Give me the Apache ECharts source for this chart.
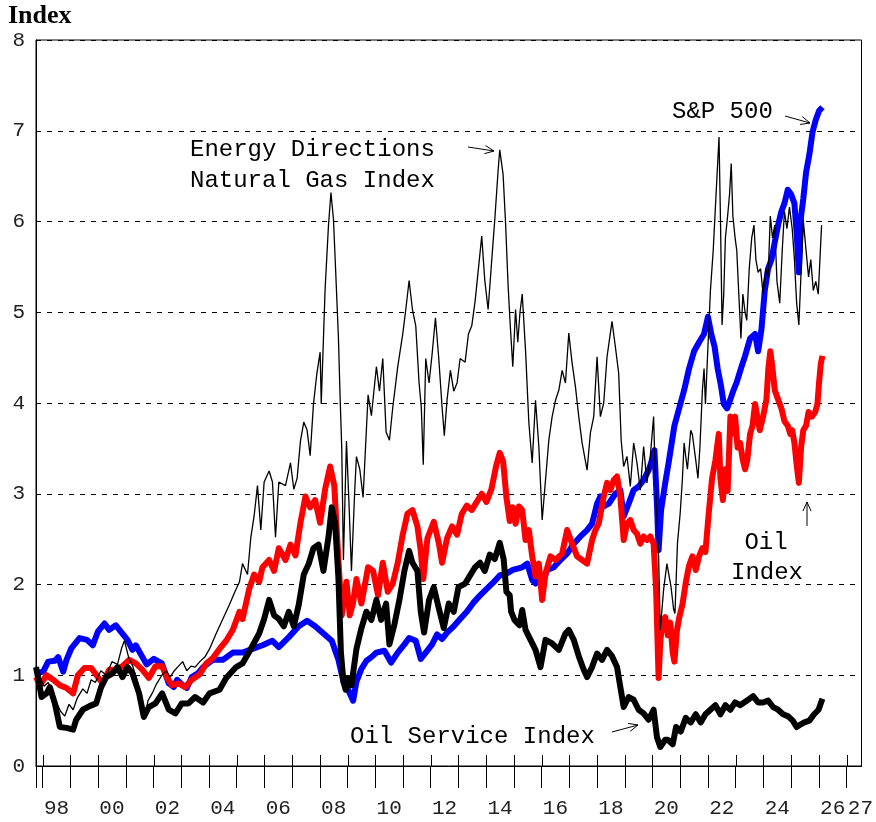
<!DOCTYPE html>
<html>
<head>
<meta charset="utf-8">
<title>Natural Gas Index vs S&amp;P 500, Oil and Oil Service</title>
<script src="https://cdn.jsdelivr.net/npm/echarts@6/dist/echarts.min.js"></script>
<style>
  html, body { margin: 0; padding: 0; background: #fff; }
  #chart { width: 876px; height: 822px; }
</style>
</head>
<body>
<div id="chart"></div>
<script>
// [decimal year, index value] - all series start at 1 in late 1997

// Energy Directions Natural Gas Index (thin black)
const natGas = [
  [1997.76,1.10],[1997.9,0.98],[1998.05,0.88],[1998.2,0.92],[1998.35,0.82],[1998.5,0.70],[1998.65,0.60],[1998.8,0.55],
  [1998.95,0.68],[1999.1,0.62],[1999.25,0.75],[1999.45,0.85],[1999.6,0.80],[1999.75,0.95],[1999.9,0.92],[2000.1,1.05],
  [2000.3,1.00],[2000.5,1.15],[2000.7,1.12],[2000.85,1.30],[2000.95,1.38],[2001.1,1.20],[2001.25,1.10],[2001.4,0.95],
  [2001.55,0.75],[2001.7,0.55],[2001.8,0.72],[2001.95,0.80],[2002.1,0.90],[2002.3,1.00],[2002.45,1.05],[2002.6,0.98],
  [2002.75,1.05],[2002.9,1.10],[2003.05,1.15],[2003.2,1.05],[2003.35,1.10],[2003.5,1.09],[2003.67,1.15],[2003.85,1.20],
  [2004.02,1.29],[2004.26,1.46],[2004.5,1.62],[2004.74,1.78],[2004.92,1.91],[2005.1,2.03],[2005.21,2.23],[2005.39,2.11],
  [2005.51,2.52],[2005.63,2.76],[2005.75,3.09],[2005.87,2.60],[2005.99,3.13],[2006.17,3.25],[2006.29,3.13],[2006.4,2.52],
  [2006.52,3.13],[2006.76,3.09],[2006.94,3.34],[2007.06,3.05],[2007.18,3.17],[2007.3,3.58],[2007.42,3.79],[2007.54,3.70],
  [2007.65,3.42],[2007.77,3.99],[2007.89,4.32],[2008.01,4.56],[2008.05,3.99],[2008.19,5.26],[2008.31,5.95],[2008.4,6.32],
  [2008.49,6.03],[2008.57,5.46],[2008.67,4.72],[2008.73,4.07],[2008.79,3.50],[2008.85,2.27],[2008.96,3.58],[2009.05,2.90],
  [2009.14,2.15],[2009.26,3.05],[2009.32,3.41],[2009.44,3.27],[2009.56,2.96],[2009.74,4.09],[2009.86,3.86],[2010.04,4.40],
  [2010.15,4.13],[2010.27,4.49],[2010.39,3.68],[2010.51,3.59],[2010.63,3.95],[2010.81,4.40],[2010.99,4.76],[2011.1,5.03],
  [2011.22,5.35],[2011.34,5.03],[2011.46,4.85],[2011.58,4.22],[2011.66,3.95],[2011.73,3.32],[2011.82,4.49],[2011.94,4.22],
  [2012.05,4.54],[2012.17,4.94],[2012.29,4.49],[2012.41,3.95],[2012.49,3.64],[2012.59,4.04],[2012.71,4.36],[2012.83,4.13],
  [2012.95,4.22],[2013.06,4.49],[2013.24,4.45],[2013.36,4.76],[2013.48,4.85],[2013.6,5.12],[2013.72,5.48],[2013.84,5.84],
  [2013.95,5.35],[2014.07,5.03],[2014.19,5.53],[2014.31,6.02],[2014.43,6.56],[2014.49,6.79],[2014.61,6.52],[2014.7,5.98],
  [2014.79,5.30],[2014.87,4.85],[2014.96,4.40],[2015.06,5.03],[2015.14,4.67],[2015.22,5.00],[2015.3,5.20],[2015.42,4.58],
  [2015.54,3.78],[2015.66,3.34],[2015.78,4.03],[2015.9,3.52],[2016.02,2.71],[2016.14,3.15],[2016.26,3.59],[2016.38,3.85],
  [2016.5,4.03],[2016.62,4.14],[2016.74,4.36],[2016.86,4.22],[2016.98,4.77],[2017.1,4.44],[2017.22,4.18],[2017.34,3.85],
  [2017.46,3.56],[2017.64,3.26],[2017.76,3.67],[2017.88,3.85],[2018.0,4.51],[2018.12,3.85],[2018.24,4.00],[2018.36,4.51],
  [2018.48,4.77],[2018.54,4.90],[2018.66,4.62],[2018.78,4.33],[2018.87,3.59],[2018.96,3.30],[2019.08,3.41],[2019.2,3.08],
  [2019.32,3.56],[2019.44,3.34],[2019.56,3.04],[2019.68,3.52],[2019.8,3.12],[2019.92,3.41],[2020.04,3.85],[2020.1,3.19],
  [2020.22,2.31],[2020.28,1.50],[2020.4,1.94],[2020.52,2.23],[2020.67,1.97],[2020.76,1.73],[2020.81,1.68],[2020.9,2.45],
  [2021.0,2.79],[2021.08,3.17],[2021.14,3.56],[2021.2,3.41],[2021.26,3.27],[2021.38,3.70],[2021.44,3.65],[2021.56,3.37],
  [2021.64,3.17],[2021.71,3.51],[2021.8,4.14],[2021.86,4.38],[2021.91,3.99],[2022.0,4.62],[2022.09,5.24],[2022.19,5.68],
  [2022.27,6.16],[2022.35,6.64],[2022.4,6.93],[2022.45,6.06],[2022.51,4.86],[2022.57,5.20],[2022.63,5.82],[2022.71,6.06],
  [2022.78,6.30],[2022.84,6.64],[2022.9,6.06],[2022.98,5.82],[2023.04,5.68],[2023.1,5.29],[2023.19,4.71],[2023.26,5.20],
  [2023.34,5.00],[2023.4,4.91],[2023.49,5.48],[2023.58,5.82],[2023.66,5.96],[2023.73,5.58],[2023.81,5.44],[2023.9,5.48],
  [2023.99,5.20],[2024.09,5.48],[2024.17,5.38],[2024.25,6.06],[2024.33,5.82],[2024.41,5.96],[2024.49,5.34],[2024.59,5.10],
  [2024.68,5.68],[2024.76,6.11],[2024.85,5.92],[2024.94,6.16],[2025.04,5.92],[2025.12,5.58],[2025.2,5.10],[2025.28,4.86],
  [2025.36,5.44],[2025.44,6.01],[2025.54,5.68],[2025.63,5.39],[2025.71,5.58],[2025.8,5.24],[2025.89,5.34],[2025.98,5.20],
  [2026.04,5.58],[2026.1,5.96]
];

// S&P 500 (blue)
const sp500 = [
  [1997.76,1.02],[1998.02,1.04],[1998.2,1.15],[1998.44,1.16],[1998.56,1.20],[1998.74,1.04],[1998.86,1.17],[1999.04,1.30],
  [1999.33,1.41],[1999.6,1.39],[1999.81,1.33],[1999.99,1.48],[2000.23,1.57],[2000.4,1.50],[2000.64,1.55],[2000.82,1.48],
  [2001.06,1.39],[2001.24,1.28],[2001.36,1.33],[2001.6,1.20],[2001.75,1.12],[2002.01,1.18],[2002.3,1.13],[2002.55,0.91],
  [2002.73,0.87],[2002.85,0.95],[2003.02,0.90],[2003.2,0.86],[2003.38,0.98],[2003.6,1.02],[2003.79,1.09],[2004.14,1.17],
  [2004.5,1.17],[2004.86,1.25],[2005.21,1.25],[2005.57,1.29],[2005.93,1.33],[2006.29,1.38],[2006.52,1.31],[2006.88,1.42],
  [2007.24,1.54],[2007.54,1.60],[2007.83,1.54],[2008.13,1.46],[2008.43,1.38],[2008.67,1.17],[2008.85,0.93],[2009.02,0.84],
  [2009.2,0.72],[2009.32,0.93],[2009.5,1.07],[2009.68,1.16],[2009.86,1.20],[2010.04,1.25],[2010.33,1.27],[2010.57,1.14],
  [2010.81,1.25],[2011.05,1.34],[2011.22,1.41],[2011.46,1.38],[2011.64,1.18],[2011.82,1.25],[2012.05,1.34],[2012.23,1.45],
  [2012.41,1.40],[2012.59,1.47],[2012.83,1.54],[2013.06,1.62],[2013.3,1.70],[2013.54,1.80],[2013.78,1.88],[2014.01,1.95],
  [2014.25,2.02],[2014.49,2.10],[2014.73,2.12],[2014.96,2.16],[2015.3,2.19],[2015.48,2.23],[2015.66,2.05],[2015.78,2.01],
  [2015.9,2.16],[2016.02,2.01],[2016.2,2.16],[2016.44,2.19],[2016.68,2.27],[2016.92,2.34],[2017.16,2.45],[2017.4,2.53],
  [2017.64,2.60],[2017.82,2.67],[2018.0,2.89],[2018.12,2.97],[2018.24,2.86],[2018.42,2.89],[2018.66,3.00],[2018.84,3.04],
  [2018.96,2.75],[2019.14,2.89],[2019.32,3.04],[2019.5,3.08],[2019.68,3.15],[2019.86,3.26],[2019.98,3.37],[2020.07,3.48],
  [2020.16,2.89],[2020.22,2.38],[2020.31,2.82],[2020.46,3.12],[2020.58,3.34],[2020.79,3.75],[2020.96,3.94],[2021.14,4.14],
  [2021.32,4.38],[2021.5,4.57],[2021.68,4.67],[2021.86,4.76],[2022.0,4.95],[2022.12,4.76],[2022.24,4.62],[2022.35,4.38],
  [2022.47,4.19],[2022.57,3.99],[2022.69,3.94],[2022.81,4.04],[2022.92,4.14],[2023.04,4.23],[2023.19,4.38],[2023.34,4.52],
  [2023.52,4.71],[2023.7,4.76],[2023.81,4.57],[2023.93,4.81],[2024.05,5.24],[2024.17,5.48],[2024.29,5.58],[2024.41,5.77],
  [2024.53,5.96],[2024.65,6.11],[2024.76,6.20],[2024.88,6.35],[2025.0,6.30],[2025.12,6.20],[2025.2,5.87],[2025.28,5.44],
  [2025.36,6.06],[2025.44,6.25],[2025.54,6.54],[2025.66,6.74],[2025.77,6.98],[2025.89,7.12],[2026.01,7.22],[2026.13,7.26]
];

// Oil Index (red)
const oilIndex = [
  [1997.76,0.98],[1997.9,0.89],[1998.14,1.00],[1998.38,0.95],[1998.62,0.89],[1998.86,0.86],[1999.1,0.80],[1999.27,1.00],
  [1999.51,1.08],[1999.75,1.08],[1999.99,0.98],[2000.17,0.91],[2000.4,1.06],[2000.64,1.06],[2000.88,1.10],[2001.12,1.17],
  [2001.36,1.13],[2001.6,1.06],[2001.83,0.97],[2002.07,1.10],[2002.31,1.10],[2002.49,0.97],[2002.67,0.89],[2002.9,0.91],
  [2003.14,0.87],[2003.38,0.95],[2003.67,1.01],[2003.9,1.13],[2004.14,1.19],[2004.38,1.29],[2004.62,1.38],[2004.86,1.50],
  [2005.1,1.70],[2005.21,1.62],[2005.45,1.95],[2005.63,2.11],[2005.81,2.03],[2005.93,2.19],[2006.17,2.27],[2006.35,2.15],
  [2006.52,2.40],[2006.76,2.27],[2006.94,2.44],[2007.12,2.32],[2007.3,2.68],[2007.48,2.97],[2007.65,2.85],[2007.83,2.93],
  [2008.01,2.68],[2008.19,3.05],[2008.37,3.30],[2008.52,3.09],[2008.67,2.27],[2008.79,1.66],[2008.88,1.87],[2008.96,2.03],
  [2009.08,1.66],[2009.2,1.80],[2009.32,2.06],[2009.5,1.79],[2009.74,2.19],[2009.92,2.15],[2010.1,1.88],[2010.27,2.24],
  [2010.45,1.92],[2010.63,2.01],[2010.81,2.24],[2010.99,2.55],[2011.16,2.78],[2011.34,2.82],[2011.52,2.64],[2011.64,2.37],
  [2011.73,2.06],[2011.88,2.51],[2012.11,2.69],[2012.29,2.46],[2012.41,2.24],[2012.59,2.51],[2012.77,2.64],[2012.95,2.55],
  [2013.12,2.78],[2013.3,2.87],[2013.48,2.82],[2013.66,2.91],[2013.84,3.00],[2014.01,2.91],[2014.19,3.05],[2014.37,3.32],
  [2014.49,3.45],[2014.61,3.36],[2014.73,2.96],[2014.85,2.70],[2014.96,2.85],[2015.06,2.67],[2015.18,2.86],[2015.3,2.82],
  [2015.42,2.49],[2015.54,2.60],[2015.66,2.31],[2015.78,2.09],[2015.9,2.23],[2016.02,1.83],[2016.14,2.12],[2016.32,2.31],
  [2016.5,2.27],[2016.74,2.34],[2016.92,2.60],[2017.1,2.45],[2017.28,2.31],[2017.46,2.27],[2017.64,2.23],[2017.82,2.49],
  [2017.94,2.60],[2018.06,2.67],[2018.24,2.97],[2018.36,3.12],[2018.48,3.04],[2018.6,3.15],[2018.72,3.19],[2018.84,2.97],
  [2018.96,2.49],[2019.08,2.67],[2019.2,2.71],[2019.32,2.60],[2019.44,2.56],[2019.56,2.45],[2019.68,2.53],[2019.8,2.49],
  [2019.92,2.53],[2020.04,2.45],[2020.13,1.94],[2020.22,0.97],[2020.28,1.35],[2020.34,1.57],[2020.46,1.64],[2020.55,1.44],
  [2020.64,1.58],[2020.73,1.25],[2020.79,1.15],[2020.88,1.49],[2020.96,1.63],[2021.08,1.78],[2021.2,2.02],[2021.32,2.21],
  [2021.44,2.31],[2021.56,2.16],[2021.68,2.31],[2021.8,2.40],[2021.91,2.36],[2022.03,2.79],[2022.15,3.17],[2022.27,3.37],
  [2022.39,3.66],[2022.45,3.17],[2022.54,2.93],[2022.63,3.27],[2022.71,3.03],[2022.81,3.85],[2022.89,3.66],[2022.98,3.85],
  [2023.07,3.51],[2023.16,3.56],[2023.26,3.37],[2023.34,3.27],[2023.42,3.37],[2023.52,3.66],[2023.61,3.75],[2023.7,3.99],
  [2023.78,3.85],[2023.87,3.70],[2023.99,3.85],[2024.11,4.04],[2024.18,4.38],[2024.25,4.57],[2024.33,4.38],[2024.41,4.14],
  [2024.53,4.04],[2024.65,3.94],[2024.76,3.80],[2024.88,3.75],[2024.97,3.66],[2025.04,3.70],[2025.12,3.56],[2025.2,3.32],
  [2025.28,3.12],[2025.36,3.51],[2025.44,3.70],[2025.54,3.75],[2025.63,3.90],[2025.75,3.85],[2025.87,3.90],[2025.95,3.99],
  [2026.01,4.23],[2026.07,4.43],[2026.13,4.52]
];

// Oil Service Index (thick black)
const oilService = [
  [1997.76,1.09],[1997.85,0.95],[1997.96,0.76],[1998.14,0.80],[1998.26,0.87],[1998.44,0.69],[1998.62,0.43],[1998.86,0.42],
  [1999.1,0.40],[1999.21,0.51],[1999.45,0.62],[1999.69,0.66],[1999.93,0.69],[2000.11,0.87],[2000.29,0.98],[2000.52,1.02],
  [2000.7,1.09],[2000.88,0.98],[2001.06,1.09],[2001.24,1.02],[2001.48,0.80],[2001.65,0.54],[2001.83,0.65],[2002.07,0.69],
  [2002.31,0.80],[2002.55,0.62],[2002.79,0.58],[2003.02,0.69],[2003.26,0.69],[2003.5,0.76],[2003.79,0.70],[2004.02,0.80],
  [2004.38,0.84],[2004.62,0.97],[2004.98,1.09],[2005.21,1.13],[2005.51,1.29],[2005.81,1.46],[2005.99,1.62],[2006.17,1.83],
  [2006.35,1.66],[2006.52,1.62],[2006.7,1.54],[2006.88,1.70],[2007.06,1.54],[2007.24,1.78],[2007.42,2.11],[2007.6,2.23],
  [2007.77,2.40],[2007.95,2.44],[2008.13,2.15],[2008.31,2.52],[2008.43,2.85],[2008.55,2.68],[2008.67,2.07],[2008.76,1.25],
  [2008.85,0.93],[2008.93,0.84],[2009.02,0.97],[2009.14,0.89],[2009.32,1.29],[2009.5,1.52],[2009.68,1.70],[2009.86,1.61],
  [2010.04,1.83],[2010.21,1.61],[2010.39,1.79],[2010.51,1.34],[2010.69,1.56],[2010.87,1.83],[2011.05,2.15],[2011.22,2.37],
  [2011.34,2.24],[2011.52,2.15],[2011.64,1.70],[2011.76,1.47],[2011.94,1.83],[2012.11,1.97],[2012.29,1.74],[2012.47,1.52],
  [2012.65,1.79],[2012.83,1.70],[2013.0,1.97],[2013.24,2.01],[2013.42,2.10],[2013.6,2.19],[2013.78,2.24],[2013.95,2.15],
  [2014.13,2.33],[2014.31,2.28],[2014.49,2.46],[2014.63,2.28],[2014.73,1.92],[2014.85,1.88],[2014.9,1.70],[2015.02,1.61],
  [2015.2,1.55],[2015.3,1.72],[2015.42,1.50],[2015.6,1.39],[2015.78,1.28],[2015.96,1.09],[2016.14,1.39],[2016.38,1.35],
  [2016.62,1.28],[2016.86,1.46],[2016.98,1.50],[2017.16,1.39],[2017.34,1.21],[2017.52,1.06],[2017.64,0.98],[2017.82,1.09],
  [2018.0,1.24],[2018.18,1.17],[2018.36,1.28],[2018.54,1.21],[2018.72,1.09],[2018.84,0.87],[2018.96,0.65],[2019.14,0.76],
  [2019.32,0.73],[2019.5,0.62],[2019.68,0.58],[2019.86,0.51],[2020.04,0.62],[2020.16,0.32],[2020.28,0.21],[2020.46,0.29],
  [2020.55,0.29],[2020.73,0.24],[2020.85,0.43],[2021.02,0.38],[2021.2,0.53],[2021.38,0.48],[2021.56,0.57],[2021.74,0.48],
  [2021.91,0.57],[2022.09,0.62],[2022.27,0.67],[2022.45,0.57],[2022.63,0.67],[2022.81,0.62],[2022.98,0.70],[2023.16,0.67],
  [2023.4,0.72],[2023.63,0.77],[2023.81,0.70],[2023.99,0.70],[2024.17,0.72],[2024.35,0.65],[2024.53,0.62],[2024.71,0.57],
  [2024.88,0.55],[2025.06,0.50],[2025.2,0.43],[2025.3,0.45],[2025.48,0.48],[2025.66,0.50],[2025.83,0.57],[2025.99,0.62],
  [2026.13,0.74]
];

// ticks at every year boundary, two-digit labels centred in every other year
const tickYears = [1998,1999,2000,2001,2002,2003,2004,2005,2006,2007,2008,2009,2010,2011,2012,
                   2013,2014,2015,2016,2017,2018,2019,2020,2021,2022,2023,2024,2025,2026,2027];
const labelYears = [1998,2000,2002,2004,2006,2008,2010,2012,2014,2016,2018,2020,2022,2024,2026,2027];
const yTicks = [0,1,2,3,4,5,6,7,8];

const X_MIN = 1997.76, X_MAX = 2027.54;
const AXIS_FONT = '"Liberation Mono", monospace';
const NOTE_FONT = '24px "Liberation Mono", monospace';

var chart = echarts.init(document.getElementById('chart'), null, { renderer: 'canvas' });

// little open-headed arrow
function arrow(x1, y1, x2, y2) {
  var a = Math.atan2(y2 - y1, x2 - x1), h = 10, w = 0.42;
  var st = { stroke: '#000', lineWidth: 1, fill: 'none' };
  return [
    { type: 'polyline', silent: true, shape: { points: [[x1, y1], [x2, y2]] }, style: st },
    { type: 'polyline', silent: true, shape: { points: [
        [x2 - h * Math.cos(a - w), y2 - h * Math.sin(a - w)],
        [x2, y2],
        [x2 - h * Math.cos(a + w), y2 - h * Math.sin(a + w)]
      ] }, style: st }
  ];
}

function note(text, x, y, align) {
  return {
    type: 'text', silent: true, x: x, y: y,
    style: { text: text, font: NOTE_FONT, fill: '#000', textAlign: align || 'left',
             textVerticalAlign: 'middle', verticalAlign: 'middle' }
  };
}

var graphics = [
  { type: 'text', silent: true, x: 8, y: 16,
    style: { text: 'Index', font: 'bold 26px "Liberation Serif", serif', fill: '#000',
             textVerticalAlign: 'middle', verticalAlign: 'middle' } },
  // left axis runs on below the x axis
  { type: 'line', silent: true, shape: { x1: 36.5, y1: 766, x2: 36.5, y2: 788 }, style: { stroke: '#000', lineWidth: 1 } },
  note('Energy Directions', 190, 150),
  note('Natural Gas Index', 190, 181),
  note('S&P 500', 672, 112),
  note('Oil', 766, 543, 'center'),
  note('Index', 767, 573, 'center'),
  note('Oil Service Index', 350, 737)
]
  .concat(arrow(468, 147, 494, 151))
  .concat(arrow(785, 116, 810, 123))
  .concat(arrow(807, 526, 807, 502))
  .concat(arrow(612, 732, 638, 725));

var option = {
  animation: false,
  backgroundColor: '#fff',
  grid: {
    left: 36, right: 6, top: 40, bottom: 56,
    show: true, borderColor: '#000', borderWidth: 1, backgroundColor: 'transparent'
  },
  xAxis: {
    type: 'value', min: X_MIN, max: X_MAX, position: 'bottom',
    axisLine: { show: true, onZero: false, lineStyle: { color: '#000', width: 1 } },
    axisTick: { show: true, length: 22, customValues: tickYears, lineStyle: { color: '#000', width: 1 } },
    axisLabel: {
      customValues: labelYears.map(function (y) { return y + 0.5; }),
      formatter: function (v) { return String(Math.floor(v)).slice(2); },
      margin: 32, fontFamily: AXIS_FONT, fontSize: 21, color: '#222'
    },
    splitLine: { show: false }
  },
  yAxis: {
    type: 'value', min: 0, max: 8, interval: 1,
    axisLine: { show: true, onZero: false, lineStyle: { color: '#000', width: 1 } },
    axisTick: { show: false },
    axisLabel: {
      customValues: yTicks, margin: 11, fontFamily: AXIS_FONT, fontSize: 21, color: '#222',
      verticalAlign: 'middle', padding: [6, 0, 0, 0]
    },
    splitLine: { show: true, lineStyle: { color: '#000', width: 1, type: [5, 6] } }
  },
  series: [
    {
      name: 'S&P 500', type: 'line', data: sp500, showSymbol: false, symbol: 'none', z: 2,
      lineStyle: { color: '#0000ff', width: 6, join: 'round' }
    },
    {
      name: 'Oil Index', type: 'line', data: oilIndex, showSymbol: false, symbol: 'none', z: 3,
      lineStyle: { color: '#ff0000', width: 6, join: 'round' }
    },
    {
      name: 'Oil Service Index', type: 'line', data: oilService, showSymbol: false, symbol: 'none', z: 4,
      lineStyle: { color: '#000', width: 6, join: 'round' }
    },
    {
      name: 'Natural Gas Index', type: 'line', data: natGas, showSymbol: false, symbol: 'none', z: 5,
      lineStyle: { color: '#000', width: 1.3 }
    },
    {
      // short stubs of the year ticks that poke up into the plot from the x axis
      name: 'tick stubs', type: 'custom', silent: true, clip: false, z: 6,
      data: tickYears.map(function (yr) { return [yr, 0]; }),
      renderItem: function (params, api) {
        var p = api.coord([api.value(0), 0]);
        var x = Math.round(p[0]) + 0.5;
        return {
          type: 'line',
          shape: { x1: x, y1: p[1] - 11, x2: x, y2: p[1] },
          style: { stroke: '#000', lineWidth: 1 }
        };
      }
    }
  ],
  graphic: graphics
};

chart.setOption(option);
</script>
</body>
</html>
